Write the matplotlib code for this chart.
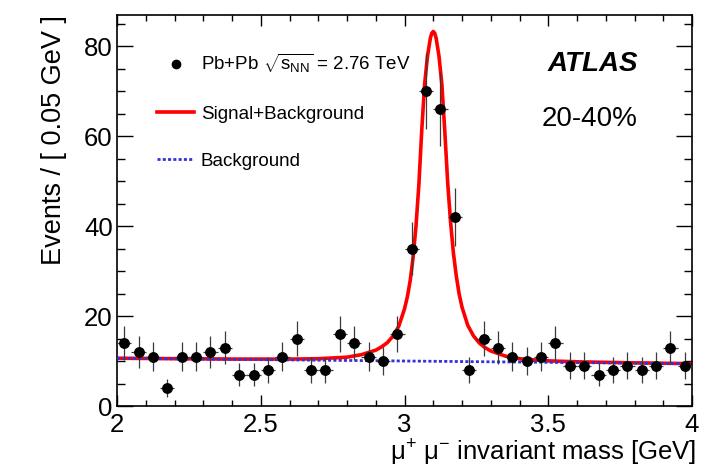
import matplotlib
matplotlib.use("Agg")
import matplotlib.pyplot as plt
from matplotlib.ticker import MultipleLocator
from matplotlib.lines import Line2D

plt.rcParams['font.family'] = ['Liberation Sans', 'DejaVu Sans']
plt.rcParams['mathtext.fontset'] = 'custom'
plt.rcParams['mathtext.rm'] = 'Liberation Sans'
plt.rcParams['mathtext.it'] = 'Liberation Sans:italic'
plt.rcParams['mathtext.bf'] = 'Liberation Sans:bold'

# Data points (bin centres, 0.05 GeV bins)
mass = [2.025, 2.075, 2.125, 2.175, 2.225, 2.275, 2.325, 2.375, 2.425, 2.475,
        2.525, 2.575, 2.625, 2.675, 2.725, 2.775, 2.825, 2.875, 2.925, 2.975,
        3.025, 3.075, 3.125, 3.175, 3.225, 3.275, 3.325, 3.375, 3.425, 3.475,
        3.525, 3.575, 3.625, 3.675, 3.725, 3.775, 3.825, 3.875, 3.925, 3.975]
events = [14, 12, 11, 4, 11, 11, 12, 13, 7, 7,
          8, 11, 15, 8, 8, 16, 14, 11, 10, 16,
          35, 70, 66, 42, 8, 15, 13, 11, 10, 11,
          14, 9, 9, 7, 8, 9, 8, 9, 13, 9]
errors = [e ** 0.5 for e in events]
half_bin = [0.025] * len(mass)

# Signal+Background fit curve
fit_mass = [2.00, 2.20, 2.40, 2.60, 2.70, 2.80, 2.85, 2.90, 2.92, 2.94, 2.96, 2.98,
            3.00, 3.01, 3.02, 3.03, 3.04, 3.05, 3.06, 3.07, 3.08, 3.09, 3.095,
            3.10, 3.105, 3.11, 3.12, 3.13, 3.14, 3.15, 3.16, 3.17, 3.18, 3.19,
            3.20, 3.22, 3.24, 3.26, 3.28, 3.30, 3.35, 3.40, 3.50, 3.60, 3.80, 4.00]
fit_total = [10.62, 10.52, 10.43, 10.42, 10.51, 10.85, 11.41, 12.41, 13.13, 14.07, 15.52, 17.71,
             21.58, 24.28, 27.95, 33.07, 40.03, 49.19, 61.27, 71.53, 77.75, 81.78, 82.87,
             83.24, 82.87, 81.76, 77.73, 71.49, 61.23, 49.86, 41.05, 34.09, 28.95, 24.92,
             21.97, 17.93, 15.58, 14.02, 12.98, 12.24, 11.11, 10.49, 10.03, 9.82, 9.59, 9.42]

# Background fit (linear)
bkg_mass = [2.0, 4.0]
bkg_total = [10.6, 9.4]

legend_labels = [r'Pb+Pb $\sqrt{\mathrm{s}_{\mathrm{NN}}}$ = 2.76 TeV', 'Signal+Background', 'Background']

fig = plt.figure(figsize=(7.11, 4.68), dpi=100)
ax = fig.add_axes([117 / 711, 1 - 406 / 468, (692 - 117) / 711, (406 - 15) / 468])

ax.plot(fit_mass, fit_total, color='#ff0000', lw=2.6, zorder=2, solid_joinstyle='round')
ax.plot(bkg_mass, bkg_total, color='#3333dd', lw=2.0, linestyle=(0, (1.1, 0.8)), zorder=3)
ax.errorbar(mass, events, yerr=errors, xerr=half_bin, fmt='o', color='black',
            ecolor='#3a3a3a', elinewidth=0.9, markersize=6.8, capsize=0, zorder=4)

ax.set_xlim(2, 4)
ax.set_ylim(0, 86.9)
ax.set_xticks([2, 2.5, 3, 3.5, 4])
ax.set_xticklabels(['2', '2.5', '3', '3.5', '4'])
ax.xaxis.set_minor_locator(MultipleLocator(0.1))
ax.yaxis.set_major_locator(MultipleLocator(20))
ax.yaxis.set_minor_locator(MultipleLocator(5))
ax.tick_params(axis='both', which='both', direction='in', top=True, right=True,
               labelsize=18.5, width=1.0)
ax.tick_params(axis='x', which='major', length=8, pad=5)
ax.tick_params(axis='x', which='minor', length=4.5)
ax.tick_params(axis='y', which='major', length=11.5, pad=3)
ax.tick_params(axis='y', which='minor', length=5.8)
for s in ax.spines.values():
    s.set_linewidth(1.2)

ax.set_ylabel('Events / [ 0.05 GeV ]', fontsize=19.5, loc='top', labelpad=12)
ax.set_xlabel(r'$\mathrm{\mu^{+}\ \mu^{-}}$ invariant mass [GeV]', fontsize=18.5,
              loc='right')
ax.xaxis.set_label_coords(1.007, -0.082)
ax.xaxis.label.set_horizontalalignment('right')
ax.xaxis.label.set_verticalalignment('top')

ax.text(0.906, 0.875, 'ATLAS', transform=ax.transAxes, fontsize=20,
        fontweight='bold', fontstyle='italic', ha='right', va='center')
ax.text(0.906, 0.733, '20-40%', transform=ax.transAxes, fontsize=20,
        ha='right', va='center')

handles = [Line2D([], [], marker='o', color='black', linestyle='none', markersize=6),
           Line2D([], [], color='#ff0000', lw=2.6),
           Line2D([], [], color='#3333dd', lw=2.0, linestyle=(0, (1.1, 0.8)))]
ax.legend(handles, legend_labels, loc='upper left', bbox_to_anchor=(0.04, 0.948),
          frameon=False, fontsize=13.5, handlelength=2.0, handletextpad=0.35,
          labelspacing=1.6, numpoints=1)

fig.savefig('out.png', dpi=100)
